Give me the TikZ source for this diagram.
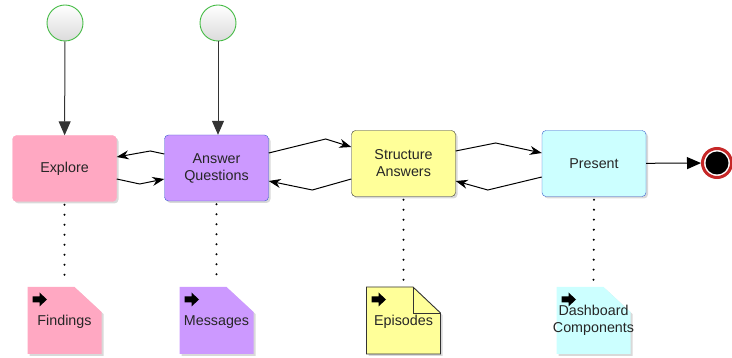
\documentclass[tikz,border=0pt]{standalone}
\usepackage{fontspec}
\setmainfont{Liberation Sans}
\usepackage{xcolor}
\definecolor{explorepink}{HTML}{FFA8C2}
\definecolor{askpurple}{HTML}{CC99FF}
\definecolor{structyellow}{HTML}{FFFF99}
\definecolor{presentcyan}{HTML}{CCFFFF}
\definecolor{edgeblue}{HTML}{3A5FCD}
\definecolor{startgreen}{HTML}{44BB44}
\definecolor{stopred}{HTML}{C62828}
\usepackage{tikz}
\usetikzlibrary{arrows.meta}
\usetikzlibrary{shadows}
\tikzset{>=Stealth}
\tikzset{
  activity/.style={draw, rounded corners=4pt, minimum width=104pt, minimum height=66pt,
    align=center, text=black!85, font=\fontsize{14.3}{17}\selectfont,
    drop shadow={opacity=0.3, shadow xshift=2pt, shadow yshift=-2pt}},
  startnode/.style={circle, draw=startgreen, line width=0.9pt, minimum size=36pt,
    inner sep=0pt, top color=white, bottom color=black!14},
  stopnode/.style={circle, draw=stopred, line width=3pt, minimum size=29pt,
    inner sep=0pt, fill=white},
  artifact/.style={minimum width=74pt, minimum height=67pt, align=center,
    text=black!85, font=\fontsize{14.3}{17}\selectfont},
  flow/.style={-{Stealth[length=12pt,width=9pt]}, line width=1pt},
  enter/.style={-{Triangle[length=14pt,width=12pt]}, line width=1pt, black!80},
  trace/.style={line width=2.3pt, dash pattern=on 0pt off 10pt, line cap=round,
    shorten <=3pt, shorten >=6pt},
}

\begin{document}
\begin{tikzpicture}
\useasboundingbox (0,0) rectangle (732pt,-358pt);
\begin{scope}[x=1pt,y=1pt]

\node[startnode] at (65,-23)(start1){};
\node[startnode] at (218,-23)(start2){};

\node[activity, fill=explorepink, draw=explorepink] at (64.5,-168.5)(explore){Explore};
\node[activity, fill=askpurple, draw=edgeblue] at (216.5,-168)(answer){Answer\\Questions};
\node[activity, fill=structyellow, draw=black!80] at (403.5,-163.5)(structure){Structure\\Answers};
\node[activity, fill=presentcyan, draw=edgeblue] at (594,-163.5)(present){Present};

\node[stopnode] at (717,-163)(stop){};
\fill (stop) circle (11.5pt);

% document shapes with a cut corner
\foreach \cx/\col in {64.5/explorepink, 216.5/askpurple, 593.5/presentcyan}{
  \fill[\col, drop shadow={opacity=0.3, shadow xshift=2pt, shadow yshift=-2pt}]
    (\cx-37,-287) -- (\cx+10,-287) -- (\cx+37,-312) -- (\cx+37,-354)
    -- (\cx-37,-354) -- cycle;
}
\filldraw[fill=structyellow, draw=black!80, line width=0.9pt,
    drop shadow={opacity=0.3, shadow xshift=2pt, shadow yshift=-2pt}]
  (366.5,-287) -- (413,-287) -- (440.5,-313) -- (440.5,-354)
  -- (366.5,-354) -- cycle;
\draw[black!80, line width=0.9pt] (413,-287) -- (413,-313) -- (440.5,-313);

\foreach \cx in {64.5, 216.5, 403.5, 593.5}{
  \fill[black] (\cx-32,-296.5) -- (\cx-25,-296.5) -- (\cx-25,-292.5) -- (\cx-17.5,-299.5)
    -- (\cx-25,-306.5) -- (\cx-25,-302.5) -- (\cx-32,-302.5) -- cycle;
}

\node[artifact] at (64.5,-322)(findings){Findings};
\node[artifact] at (216.5,-322)(messages){Messages};
\node[artifact] at (403.5,-322)(episodes){Episodes};
\node[artifact] at (593.5,-320.5)(components){Dashboard\\Components};

\draw[enter] (start1) -- (explore);
\draw[enter] (start2) -- (start2 |- answer.north);

\draw[flow] ([yshift=14pt]answer.west) -- ++(-14,3) -- ([yshift=11.5pt]explore.east);
\draw[flow] ([yshift=-10.5pt]explore.east) -- ++(23,-5) -- ([yshift=-11pt]answer.west);
\draw[flow] ([yshift=15pt]answer.east) -- ++(57,14) -- ([yshift=16.5pt]structure.west);
\draw[flow] ([yshift=-15.5pt]structure.west) -- ++(-39,-11) -- ([yshift=-13pt]answer.east);
\draw[flow] ([yshift=12.5pt]structure.east) -- ++(40,8) -- ([yshift=10.5pt]present.west);
\draw[flow] ([yshift=-13.5pt]present.west) -- ++(-54,-13) -- ([yshift=-17.5pt]structure.east);
\draw[enter, black] (present) -- (stop);

\draw[trace] (explore.south) -- (findings.north);
\draw[trace] (answer.south) -- (messages.north);
\draw[trace] (structure.south) -- (episodes.north);
\draw[trace] (present.south) -- (components.north);

\end{scope}
\end{tikzpicture}
\end{document}
